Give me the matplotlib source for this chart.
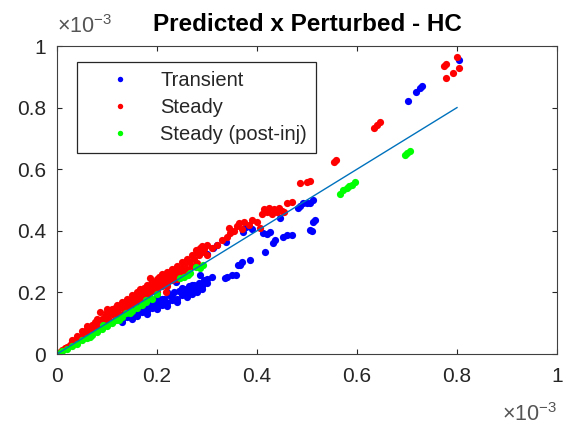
import matplotlib
matplotlib.use("Agg")
import matplotlib.pyplot as plt

plt.rcParams['font.family'] = ['Liberation Sans', 'DejaVu Sans']
plt.rcParams['mathtext.fontset'] = 'custom'
plt.rcParams['mathtext.rm'] = 'Liberation Sans'

# values in units of 1e-3 (predicted, perturbed)
trans_x = [0.10, 0.11, 0.12, 0.13, 0.135, 0.14, 0.145, 0.15, 0.152, 0.155, 0.16, 0.165, 0.172, 0.17,
           0.175, 0.18, 0.185, 0.19, 0.195, 0.20, 0.205, 0.21, 0.215, 0.219, 0.22, 0.225, 0.23, 0.235,
           0.239, 0.24, 0.245, 0.25, 0.255, 0.26, 0.265, 0.27, 0.275, 0.28, 0.285, 0.286, 0.29, 0.295,
           0.30, 0.30, 0.312, 0.32, 0.339, 0.336, 0.34, 0.35, 0.359, 0.362, 0.366, 0.37, 0.386,
           0.373, 0.379, 0.39, 0.413, 0.416, 0.42, 0.426, 0.432, 0.436, 0.446, 0.452, 0.46, 0.47,
           0.482, 0.486, 0.492, 0.50, 0.506, 0.512, 0.506, 0.51, 0.512, 0.516,
           0.703, 0.719, 0.726, 0.731, 0.804,
           0.13, 0.15, 0.16, 0.17, 0.18, 0.19, 0.20, 0.21, 0.22, 0.23, 0.24, 0.25, 0.26, 0.27,
           0.28, 0.29, 0.25, 0.27, 0.20, 0.22, 0.12, 0.14, 0.30, 0.31]
trans_y = [0.10, 0.105, 0.12, 0.115, 0.13, 0.12, 0.135, 0.125, 0.18, 0.14, 0.13, 0.145, 0.19, 0.135,
           0.15, 0.14, 0.16, 0.15, 0.17, 0.155, 0.175, 0.16, 0.18, 0.17, 0.165, 0.19, 0.175, 0.20,
           0.235, 0.18, 0.205, 0.19, 0.21, 0.20, 0.22, 0.21, 0.225, 0.215, 0.23, 0.256, 0.22, 0.24,
           0.245, 0.325, 0.344, 0.355, 0.365, 0.246, 0.25, 0.256, 0.256, 0.289, 0.289, 0.30, 0.305,
           0.397, 0.413, 0.405, 0.392, 0.332, 0.39, 0.397, 0.36, 0.37, 0.44, 0.38, 0.385, 0.386,
           0.473, 0.48, 0.49, 0.49, 0.49, 0.50, 0.403, 0.40, 0.43, 0.435,
           0.822, 0.852, 0.863, 0.870, 0.955,
           0.105, 0.115, 0.125, 0.15, 0.13, 0.165, 0.145, 0.18, 0.155, 0.19, 0.17, 0.20, 0.185, 0.195,
           0.20, 0.21, 0.215, 0.225, 0.185, 0.20, 0.135, 0.15, 0.23, 0.25]

steady_x = [0.005, 0.01, 0.015, 0.02, 0.025, 0.03, 0.035, 0.04, 0.045, 0.05, 0.05, 0.055, 0.06,
            0.065, 0.07, 0.07, 0.075, 0.08, 0.085, 0.086, 0.09, 0.09, 0.095, 0.10, 0.10, 0.105, 0.11,
            0.11, 0.115, 0.12, 0.125, 0.125, 0.13, 0.135, 0.14, 0.14, 0.145, 0.15, 0.15, 0.155,
            0.16, 0.16, 0.165, 0.17, 0.17, 0.175, 0.18, 0.18, 0.185, 0.186, 0.19, 0.19, 0.195, 0.20,
            0.20, 0.205, 0.21, 0.21, 0.215, 0.219, 0.22, 0.22, 0.225, 0.23, 0.23, 0.235, 0.24, 0.24,
            0.245, 0.25, 0.25, 0.255, 0.26, 0.265, 0.27, 0.275, 0.279, 0.28, 0.285, 0.286, 0.29,
            0.295, 0.30, 0.31, 0.32, 0.33, 0.34, 0.346, 0.345, 0.355, 0.36, 0.365, 0.37, 0.375,
            0.385, 0.39, 0.40, 0.405, 0.41, 0.415, 0.42, 0.425, 0.43, 0.435, 0.44, 0.445, 0.45,
            0.455, 0.46, 0.47, 0.486, 0.50, 0.506, 0.555, 0.559, 0.635, 0.64, 0.646,
            0.775, 0.779, 0.80, 0.805, 0.793, 0.779,
            0.03, 0.04, 0.06, 0.075, 0.08, 0.095, 0.10, 0.115, 0.12, 0.13, 0.14, 0.15, 0.16, 0.165,
            0.175, 0.18, 0.19, 0.20, 0.205, 0.21, 0.22, 0.23, 0.24, 0.25, 0.26, 0.27, 0.28,
            0.06, 0.08, 0.10, 0.12, 0.14, 0.16, 0.18, 0.20, 0.22, 0.24, 0.26, 0.29, 0.30]
steady_y = [0.006, 0.012, 0.02, 0.022, 0.03, 0.04, 0.038, 0.05, 0.055, 0.06, 0.075, 0.065, 0.08,
            0.07, 0.085, 0.095, 0.08, 0.10, 0.09, 0.137, 0.105, 0.115, 0.10, 0.12, 0.135, 0.11, 0.13,
            0.145, 0.125, 0.14, 0.15, 0.13, 0.16, 0.145, 0.165, 0.15, 0.17, 0.16, 0.18, 0.17,
            0.185, 0.175, 0.195, 0.18, 0.20, 0.19, 0.21, 0.195, 0.20, 0.246, 0.22, 0.205, 0.215, 0.23,
            0.21, 0.225, 0.24, 0.22, 0.235, 0.202, 0.25, 0.23, 0.245, 0.26, 0.24, 0.255, 0.27, 0.25,
            0.26, 0.28, 0.265, 0.29, 0.275, 0.30, 0.285, 0.31, 0.338, 0.295, 0.32, 0.344, 0.33,
            0.34, 0.32, 0.345, 0.355, 0.37, 0.38, 0.392, 0.41, 0.40, 0.415, 0.425, 0.405, 0.43,
            0.42, 0.435, 0.43, 0.41, 0.455, 0.47, 0.46, 0.475, 0.455, 0.47, 0.46, 0.475, 0.465,
            0.46, 0.49, 0.495, 0.555, 0.56, 0.562, 0.625, 0.63, 0.735, 0.745, 0.754,
            0.935, 0.94, 0.963, 0.928, 0.911, 0.895,
            0.045, 0.06, 0.09, 0.105, 0.115, 0.125, 0.145, 0.15, 0.16, 0.17, 0.18, 0.19, 0.20, 0.21,
            0.215, 0.225, 0.235, 0.245, 0.25, 0.26, 0.265, 0.275, 0.285, 0.30, 0.31, 0.32, 0.33,
            0.06, 0.085, 0.105, 0.125, 0.14, 0.165, 0.185, 0.20, 0.22, 0.245, 0.26, 0.35, 0.355]

post_x = [0.005, 0.01, 0.02, 0.03, 0.04, 0.05, 0.06, 0.066, 0.07, 0.08, 0.09, 0.093, 0.10, 0.11,
          0.119, 0.125, 0.13, 0.139, 0.146, 0.15, 0.16, 0.17, 0.179, 0.179, 0.19, 0.20,
          0.246, 0.255, 0.262, 0.266, 0.279, 0.286, 0.292,
          0.566, 0.572, 0.58, 0.585, 0.59, 0.596, 0.696, 0.701, 0.706]
post_y = [0.004, 0.009, 0.017, 0.027, 0.034, 0.045, 0.052, 0.056, 0.063, 0.07, 0.08, 0.094, 0.09, 0.10,
          0.11, 0.112, 0.12, 0.133, 0.133, 0.14, 0.15, 0.16, 0.17, 0.175, 0.18, 0.195,
          0.246, 0.25, 0.256, 0.262, 0.283, 0.279, 0.289,
          0.52, 0.532, 0.54, 0.545, 0.55, 0.56, 0.646, 0.653, 0.66]

line_x = [0, 0.8]
line_y = [0, 0.8]

ticks = [0, 0.2, 0.4, 0.6, 0.8, 1]
tick_labels = ['0', '0.2', '0.4', '0.6', '0.8', '1']

fig = plt.figure(figsize=(5.67, 4.28), dpi=100)
ax = fig.add_axes([57 / 567, 74 / 428, 500 / 567, 308 / 428])

ms = 5.2
ax.plot(trans_x, trans_y, 'o', color=(0, 0, 1), ms=ms, mew=0, label='Transient')
ax.plot(steady_x, steady_y, 'o', color=(1, 0, 0), ms=ms, mew=0, label='Steady')
ax.plot(post_x, post_y, 'o', color=(0, 1, 0), ms=ms, mew=0, label='Steady (post-inj)')
ax.plot(line_x, line_y, '-', color=(0, 0.447, 0.741), lw=1.0)

ax.set_xlim(0, 1)
ax.set_ylim(0, 1)
ax.set_xticks(ticks)
ax.set_xticklabels(tick_labels)
ax.set_yticks(ticks)
ax.set_yticklabels(tick_labels)

txt_col = '#262626'
ax.tick_params(direction='in', top=True, right=True, length=3.5, width=0.8,
               colors=txt_col, labelsize=15)
ax.tick_params(axis='x', pad=9)
ax.tick_params(axis='y', pad=8)
for sp in ax.spines.values():
    sp.set_color('#404040')
    sp.set_linewidth(0.8)

ax.set_title('Predicted x Perturbed - HC', fontsize=17.5, fontweight='bold', pad=11)

fig.text(57 / 567, 1 - 33 / 428, r'$\times10^{-3}$', fontsize=15.5, color='#555555',
         ha='left', va='baseline')
fig.text(557 / 567, 1 - 421 / 428, r'$\times10^{-3}$', fontsize=15.5, color='#555555',
         ha='right', va='baseline')

leg = ax.legend(loc='upper left', bbox_to_anchor=(0.0394, 0.947), borderaxespad=0,
                fontsize=14.5, handlelength=3.4, handletextpad=0.3, borderpad=0.45,
                labelspacing=0.38, fancybox=False, framealpha=1, markerscale=0.75)
leg.get_frame().set_edgecolor(txt_col)
leg.get_frame().set_linewidth(0.9)
for t in leg.get_texts():
    t.set_color(txt_col)

fig.savefig('out.png', dpi=100)
